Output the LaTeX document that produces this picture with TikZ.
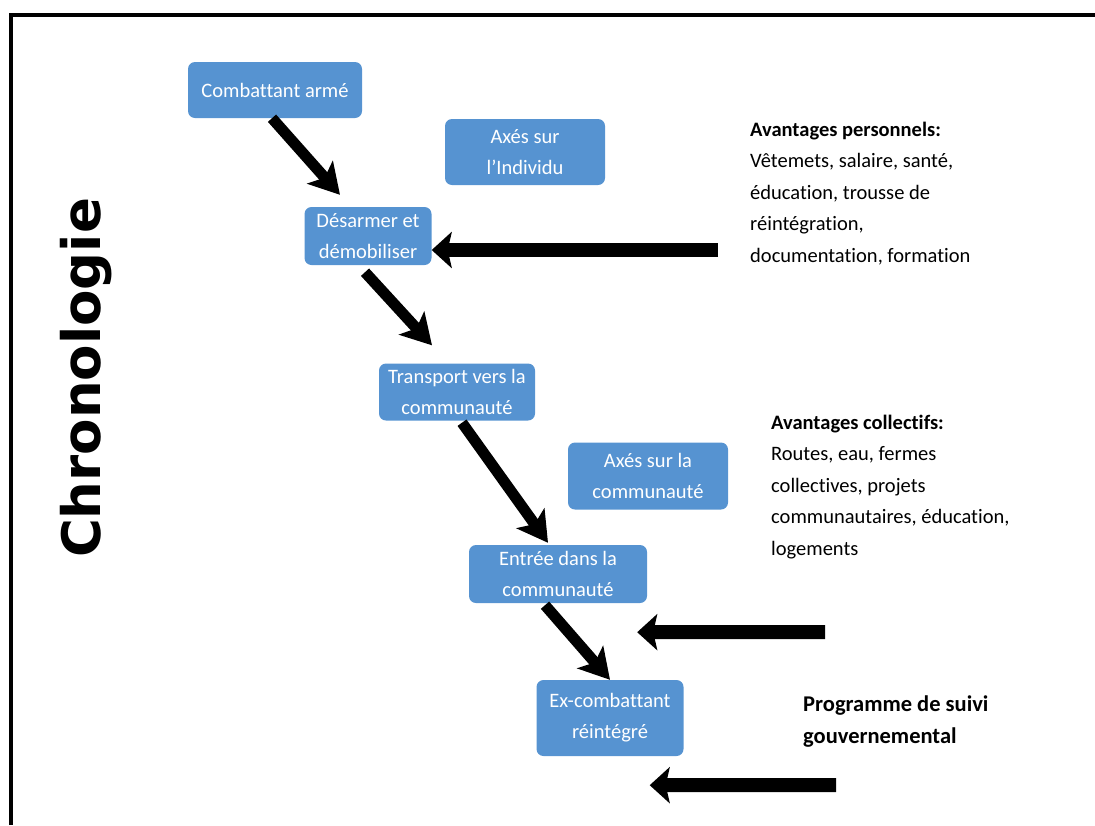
\documentclass[tikz,border=0pt]{standalone}
\usepackage{fontspec}
\setmainfont{Carlito}[Ligatures={NoCommon}]
\newfontfamily\chronofont{DejaVu Sans}
\usetikzlibrary{arrows.meta}
\definecolor{boxblue}{RGB}{86,147,209}
\begin{document}
\begin{tikzpicture}[x=1pt,y=-1pt,
  box/.style={rounded corners=7pt, fill=boxblue, text=white, align=center,
    inner sep=0pt, font=\fontsize{20.5}{31}\selectfont},
  diag/.style={line width=11pt, -{Stealth[length=30pt,width=34pt,inset=7pt]}},
  horiz/.style={line width=14pt, -{Stealth[length=20pt,width=36pt,inset=4pt]}},
  note/.style={anchor=base west, align=left, inner sep=0pt, font=\fontsize{20.5}{31.5}\selectfont},
]
\useasboundingbox (0,0) rectangle (1095,825);
\draw[line width=4pt] (11,825) -- (11,14.7) -- (1095,14.7);

\node[rotate=90, font=\chronofont\bfseries\fontsize{53}{60}\selectfont] (chrono) at (86,378) {Chronologie};

\node[box, minimum width=174pt, minimum height=56pt] (c1) at (275,90) {Combattant armé};
\node[box, minimum width=160pt, minimum height=66pt] (ax1) at (525,152) {Axés sur\\l’Individu};
\node[box, minimum width=127pt, minimum height=58pt] (c2) at (368,236) {Désarmer et\\démobiliser};
\node[box, minimum width=156pt, minimum height=57pt] (c3) at (457,392) {Transport vers la\\communauté};
\node[box, minimum width=160pt, minimum height=67pt] (ax2) at (648,476) {Axés sur la\\communauté};
\node[box, minimum width=178pt, minimum height=58pt] (c4) at (558,574) {Entrée dans la\\communauté};
\node[box, minimum width=147pt, minimum height=76pt] (c5) at (610,718) {Ex-combattant\\réintégré};

\node[note] (t1) at (750,262) {\textbf{Avantages personnels:}\\Vêtemets, salaire, santé,\\éducation, trousse de\\réintégration,\\documentation, formation};
\node[note] (t2) at (771,555) {\textbf{Avantages collectifs:}\\Routes, eau, fermes\\collectives, projets\\communautaires, éducation,\\logements};
\node[note, font=\fontsize{22.5}{31.5}\selectfont] (t3) at (803,743) {\textbf{Programme de suivi}\\\textbf{gouvernemental}};

\draw[diag] ([xshift=-3pt]c1.south) -- ([xshift=-28pt,yshift=12pt]c2.north);
\draw[diag] ([xshift=-3pt,yshift=-7pt]c2.south) -- ([xshift=-25pt,yshift=18pt]c3.north);
\draw[diag] ([xshift=5pt,yshift=-2pt]c3.south) -- ([xshift=-10pt,yshift=2pt]c4.north);
\draw[diag] ([xshift=-13pt,yshift=-2pt]c4.south) -- (c5.north);

\coordinate (h1) at (718,250);
\coordinate (h2) at (825,632);
\coordinate (h3) at (836,785);
\draw[horiz] (h1) -- ([yshift=-14pt]c2.east);
\draw[horiz] (h2) -- ([xshift=-10pt,yshift=-29pt]c4.south east);
\draw[horiz] (h3) -- ([xshift=-34pt,yshift=-29pt]c5.south east);
\end{tikzpicture}
\end{document}
